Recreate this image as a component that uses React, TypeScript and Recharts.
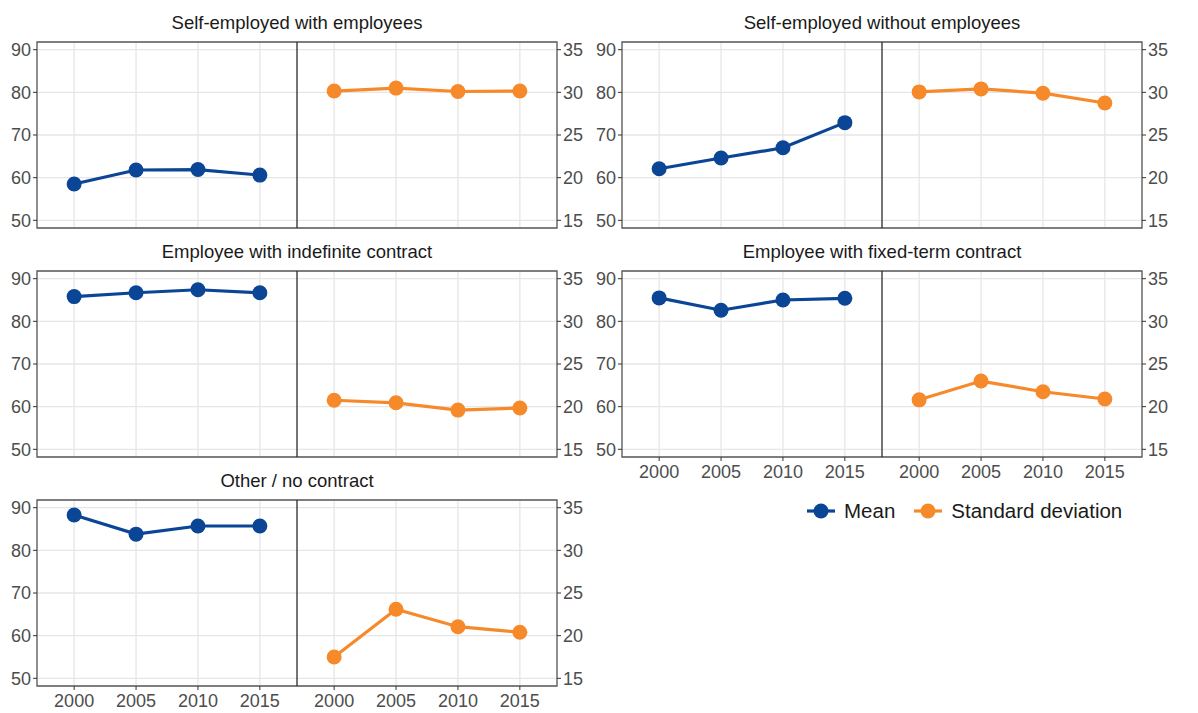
import React from 'react';
import {
  LineChart,
  Line,
  XAxis,
  YAxis,
  CartesianGrid,
  ReferenceArea,
  ReferenceLine,
} from 'recharts';

// Survey years shown on each half of a panel
const YEARS = ['2000', '2005', '2010', '2015'];

// Panel titles (employment status)
const TITLES = [
  'Self-employed with employees',
  'Self-employed without employees',
  'Employee with indefinite contract',
  'Employee with fixed-term contract',
  'Other / no contract',
];

// Mean score by year (left axis)
const MEAN_SE_WITH = [58.5, 61.8, 61.9, 60.6];
const MEAN_SE_WITHOUT = [62.1, 64.6, 67.0, 72.9];
const MEAN_INDEFINITE = [85.8, 86.7, 87.4, 86.7];
const MEAN_FIXED = [85.5, 82.6, 85.0, 85.4];
const MEAN_OTHER = [88.3, 83.8, 85.7, 85.7];

// Standard deviation by year (right axis)
const SD_SE_WITH = [30.15, 30.5, 30.1, 30.15];
const SD_SE_WITHOUT = [30.05, 30.4, 29.9, 28.75];
const SD_INDEFINITE = [20.75, 20.45, 19.6, 19.85];
const SD_FIXED = [20.8, 23.0, 21.75, 20.9];
const SD_OTHER = [17.5, 23.1, 21.05, 20.4];

// Axis ticks
const MEAN_TICKS = [50, 60, 70, 80, 90];
const SD_TICKS = [15, 20, 25, 30, 35];

const BLUE = '#0b4596';
const ORANGE = '#f68a2b';
const FONT = '"Liberation Sans", Arial, sans-serif';

// Layout of the two facet halves on one numeric x scale:
// mean at 0..3, standard deviation at 4.2..7.2, divider in between.
const SD_OFFSET = 4.2;
const X_DOMAIN: [number, number] = [-0.6, 7.8];
const DIVIDER = 3.6;
const MEAN_DOMAIN: [number, number] = [48.2, 91.8];
const SD_DOMAIN: [number, number] = [14.1, 35.9];

const X_TICKS = [
  ...YEARS.map((_, i) => i),
  ...YEARS.map((_, i) => i + SD_OFFSET),
];

const yearLabel = (v: number) =>
  YEARS[Math.round(v >= SD_OFFSET - 0.1 ? v - SD_OFFSET : v)] ?? '';

type PanelProps = {
  title: string;
  mean: number[];
  sd: number[];
  left: number;
  top: number;
  showX: boolean;
};

const PLOT_H = 186;
const CHART_W = 600;
const TOP_PAD = 10;
const TICK_FONT = 18;

const EmptyTick = () => <g />;

function Panel({ title, mean, sd, left, top, showX }: PanelProps) {
  const meanPts = mean.map((v, i) => ({ x: i, v }));
  const sdPts = sd.map((v, i) => ({ x: i + SD_OFFSET, v }));
  const xh = showX ? 32 : 2;
  const height = PLOT_H + TOP_PAD + xh;
  const tickStyle = { fill: '#4d4d4d', fontSize: TICK_FONT, fontFamily: FONT };
  return (
    <div style={{ position: 'absolute', left, top: top - TOP_PAD, width: CHART_W }}>
      <div
        style={{
          position: 'absolute',
          left: 37,
          width: 520,
          top: -20,
          lineHeight: '22px',
          textAlign: 'center',
          fontFamily: FONT,
          fontSize: 18.5,
          color: '#1a1a1a',
          whiteSpace: 'nowrap',
        }}
      >
        {title}
      </div>
      <LineChart
        width={CHART_W}
        height={height}
        margin={{ top: TOP_PAD, right: 0, bottom: 0, left: 0 }}
      >
        <CartesianGrid yAxisId="mean" stroke="#e6e6e6" strokeWidth={1.3} />
        <XAxis
          type="number"
          dataKey="x"
          domain={X_DOMAIN}
          ticks={X_TICKS}
          allowDataOverflow
          tickFormatter={yearLabel}
          axisLine={false}
          tickLine={showX ? { stroke: '#333' } : false}
          tick={showX ? tickStyle : EmptyTick}
          tickSize={4}
          tickMargin={4}
          height={xh}
          interval={0}
        />
        <YAxis
          yAxisId="mean"
          orientation="left"
          domain={MEAN_DOMAIN}
          ticks={MEAN_TICKS}
          allowDataOverflow
          axisLine={false}
          tickLine={{ stroke: '#333' }}
          tick={tickStyle}
          tickSize={4}
          tickMargin={2}
          width={37}
          interval={0}
        />
        <YAxis
          yAxisId="sd"
          orientation="right"
          domain={SD_DOMAIN}
          ticks={SD_TICKS}
          allowDataOverflow
          axisLine={false}
          tickLine={{ stroke: '#333' }}
          tick={tickStyle}
          tickSize={4}
          tickMargin={2}
          width={43}
          interval={0}
        />
        <ReferenceArea
          yAxisId="mean"
          x1={X_DOMAIN[0]}
          x2={X_DOMAIN[1]}
          y1={MEAN_DOMAIN[0]}
          y2={MEAN_DOMAIN[1]}
          fill="none"
          stroke="#5a5a5a"
          strokeWidth={1.3}
        />
        <ReferenceLine yAxisId="mean" x={DIVIDER} stroke="#2b2b2b" strokeWidth={1.3} />
        <Line
          yAxisId="mean"
          data={meanPts}
          dataKey="v"
          stroke={BLUE}
          strokeWidth={3.2}
          dot={{ r: 7.5, fill: BLUE, stroke: BLUE, strokeWidth: 0 }}
          isAnimationActive={false}
        />
        <Line
          yAxisId="sd"
          data={sdPts}
          dataKey="v"
          stroke={ORANGE}
          strokeWidth={3.2}
          dot={{ r: 7.5, fill: ORANGE, stroke: ORANGE, strokeWidth: 0 }}
          isAnimationActive={false}
        />
      </LineChart>
    </div>
  );
}

function LegendKey({ color, label }: { color: string; label: string }) {
  return (
    <div style={{ display: 'flex', alignItems: 'center', marginRight: 18 }}>
      <svg width={30} height={18}>
        <line x1={1} y1={9} x2={29} y2={9} stroke={color} strokeWidth={3.2} />
        <circle cx={15} cy={9} r={7.5} fill={color} />
      </svg>
      <span
        style={{
          marginLeft: 8,
          fontFamily: FONT,
          fontSize: 20.5,
          color: '#1a1a1a',
        }}
      >
        {label}
      </span>
    </div>
  );
}

export default function App() {
  const ROW_TOPS = [42, 271, 500];
  const COL_LEFTS = [0, 585];
  return (
    <div
      style={{
        position: 'absolute',
        left: 0,
        top: 0,
        width: 1198,
        height: 713,
        background: '#fff',
        overflow: 'hidden',
      }}
    >
      <Panel title={TITLES[0]} mean={MEAN_SE_WITH} sd={SD_SE_WITH} left={COL_LEFTS[0]} top={ROW_TOPS[0]} showX={false} />
      <Panel title={TITLES[1]} mean={MEAN_SE_WITHOUT} sd={SD_SE_WITHOUT} left={COL_LEFTS[1]} top={ROW_TOPS[0]} showX={false} />
      <Panel title={TITLES[2]} mean={MEAN_INDEFINITE} sd={SD_INDEFINITE} left={COL_LEFTS[0]} top={ROW_TOPS[1]} showX={false} />
      <Panel title={TITLES[3]} mean={MEAN_FIXED} sd={SD_FIXED} left={COL_LEFTS[1]} top={ROW_TOPS[1]} showX={true} />
      <Panel title={TITLES[4]} mean={MEAN_OTHER} sd={SD_OTHER} left={COL_LEFTS[0]} top={ROW_TOPS[2]} showX={true} />
      <div style={{ position: 'absolute', left: 806, top: 499, display: 'flex' }}>
        <LegendKey color={BLUE} label="Mean" />
        <LegendKey color={ORANGE} label="Standard deviation" />
      </div>
    </div>
  );
}
